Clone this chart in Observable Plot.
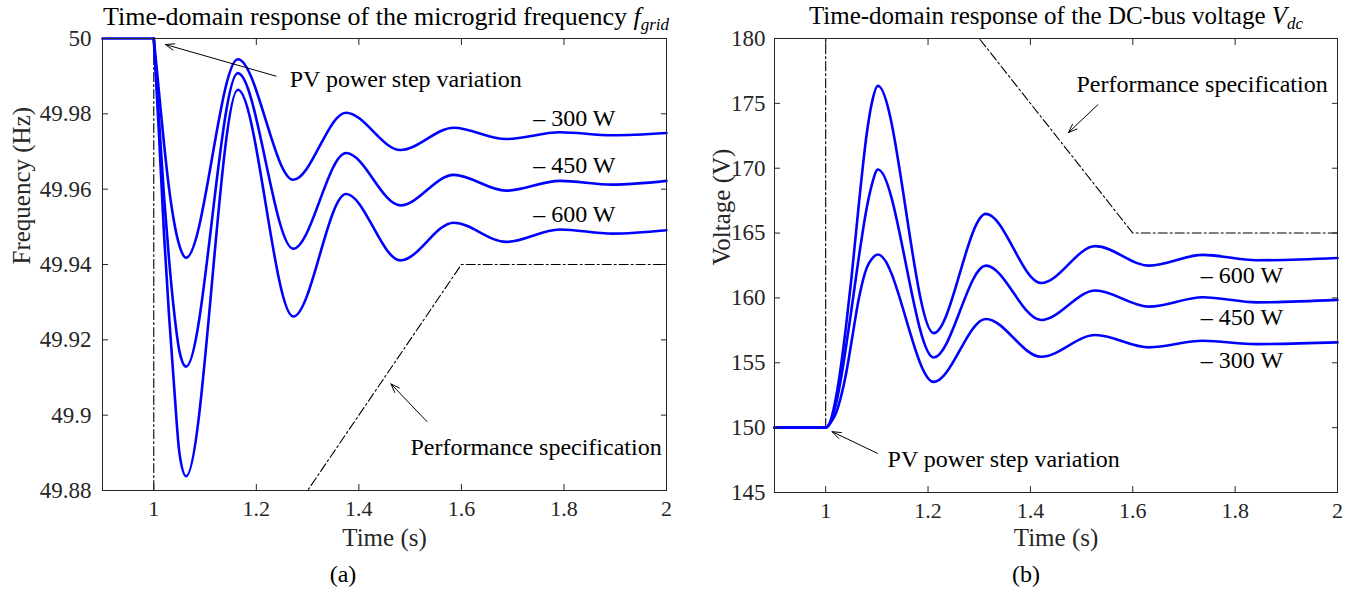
<!DOCTYPE html>
<html><head><meta charset="utf-8">
<script src="https://cdn.jsdelivr.net/npm/d3@7"></script>
<script src="https://cdn.jsdelivr.net/npm/@observablehq/plot@0.6"></script>
<style>
body{margin:0;background:#fff;width:1354px;height:591px;position:relative;overflow:hidden;font-family:"Liberation Serif",serif;color:#000}
.panel{position:absolute;top:0}
.title{position:absolute;white-space:nowrap;transform:translateX(-50%);top:2px}
.title sub{font-size:17px;vertical-align:-5px;line-height:0}
.cap{position:absolute;font-size:24px;transform:translateX(-50%);top:561px}
</style></head><body>
<div id="a" class="panel" style="left:0"></div>
<div id="b" class="panel" style="left:680px"></div>
<div class="title" style="left:386px;font-size:26px">Time-domain response of the microgrid frequency <i>f</i><sub><i>grid</i></sub></div>
<div class="title" style="left:1056px;font-size:25px">Time-domain response of the DC-bus voltage <i>V</i><sub><i>dc</i></sub></div>
<div class="cap" style="left:343px">(a)</div>
<div class="cap" style="left:1026px">(b)</div>
<script>
// ---------- shared x axis ----------
const xTicks = [1, 1.2, 1.4, 1.6, 1.8, 2];
const xTickLabels = ["1", "1.2", "1.4", "1.6", "1.8", "2"];
const xLabel = "Time (s)";
const preStepTime = [0.9, 1.0];

// ---------- (a) microgrid frequency ----------
const freqTime = [1.0, 1.01, 1.02, 1.03, 1.04, 1.05, 1.063, 1.164, 1.272, 1.375, 1.481, 1.585, 1.687, 1.792, 1.894, 2.0];
const freq300 = [50, 49.986, 49.972, 49.960, 49.951, 49.945, 49.9418, 49.9945, 49.9625, 49.9803, 49.9704, 49.9763, 49.9733, 49.9751, 49.9743, 49.9749];
const freq450 = [50, 49.979, 49.958, 49.941, 49.927, 49.917, 49.9129, 49.9908, 49.9442, 49.9696, 49.9557, 49.9638, 49.9596, 49.9622, 49.9612, 49.9622];
const freq600 = [50, 49.975, 49.948, 49.926, 49.907, 49.890, 49.8838, 49.9864, 49.9262, 49.9587, 49.9411, 49.9511, 49.9460, 49.9493, 49.9482, 49.9491];
const freqPre = [50, 50];
const freqSpecTime = [1.0, 1.0, 1.3, 1.6, 2.0];
const freqSpec = [50, 49.88, 49.88, 49.94, 49.94];
const freqTicks = [49.88, 49.9, 49.92, 49.94, 49.96, 49.98, 50];
const freqTickLabels = ["49.88", "49.9", "49.92", "49.94", "49.96", "49.98", "50"];
const freqYLabel = "Frequency (Hz)";
const freqLabels = ["– 300 W", "– 450 W", "– 600 W"];
const freqLabelX = [1.74, 1.74, 1.74];
const freqLabelY = [49.9789, 49.9664, 49.9533];
const freqNoteText = ["PV power step variation", "Performance specification"];
const freqNoteX = [1.265, 1.5006];
const freqNoteY = [49.9892, 49.8914];
const freqArrowX1 = [1.2385, 1.5328];
const freqArrowY1 = [49.9900, 49.8983];
const freqArrowX2 = [1.0228, 1.4626];
const freqArrowY2 = [49.9984, 49.9083];

// ---------- (b) DC-bus voltage ----------
const voltTime = [0.9, 1.0, 1.01, 1.02, 1.03, 1.04, 1.05, 1.065, 1.08, 1.09, 1.102, 1.211, 1.313, 1.421, 1.527, 1.632, 1.737, 1.842, 2.0];
const volt600 = [150, 150, 150.6, 152.3, 154.8, 157.9, 161.4, 167.3, 172.6, 175.0, 176.35, 157.29, 166.48, 161.15, 163.99, 162.49, 163.32, 162.90, 163.08];
const volt450 = [150, 150, 150.5, 151.8, 153.8, 156.3, 159.0, 163.2, 166.9, 168.7, 169.9, 155.41, 162.49, 158.30, 160.57, 159.33, 160.05, 159.66, 159.85];
const volt300 = [150, 150, 150.4, 151.1, 152.4, 154.2, 156.5, 160.0, 162.3, 163.0, 163.35, 153.53, 158.38, 155.46, 157.14, 156.19, 156.70, 156.44, 156.57];
const voltSpecTime = [1.0, 1.0, 1.3, 1.6, 2.0];
const voltSpec = [150, 180, 180, 165, 165];
const voltTicks = [145, 150, 155, 160, 165, 170, 175, 180];
const voltTickLabels = ["145", "150", "155", "160", "165", "170", "175", "180"];
const voltYLabel = "Voltage (V)";
const voltLabels = ["– 600 W", "– 450 W", "– 300 W"];
const voltLabelX = [1.733, 1.733, 1.733];
const voltLabelY = [161.72, 158.5, 155.2];
const voltNoteText = ["Performance specification", "PV power step variation"];
const voltNoteX = [1.490, 1.121];
const voltNoteY = [176.47, 147.55];
const voltArrowX1 = [1.532, 1.101];
const voltArrowY1 = [174.9, 148.02];
const voltArrowX2 = [1.474, 1.0126];
const voltArrowY2 = [172.74, 149.69];

const BLUE = "#0000ff";
const AXC = "#262626";
const FONT = "Liberation Serif, serif";

function rows(xs, ys, extra = {}) { return xs.map((x, i) => ({x, y: ys[i], ...extra})); }

function panel(o) {
  const xFmt = new Map(xTicks.map((t, i) => [t, xTickLabels[i]]));
  const yFmt = new Map(o.yTicks.map((t, i) => [t, o.yTickLabels[i]]));
  const series = o.series.flatMap(([xs, ys, k]) => rows(xs, ys, {k}));
  const pre = o.pre ? o.pre.flatMap(([xs, ys, k]) => rows(xs, ys, {k})) : [];
  const labels = o.labels.map((t, i) => ({t, x: o.labelX[i], y: o.labelY[i]}));
  const notes = o.noteText.map((t, i) => ({t, x: o.noteX[i], y: o.noteY[i]}));
  const arrows = o.ax1.map((x1, i) => ({x1, y1: o.ay1[i], x2: o.ax2[i], y2: o.ay2[i]}));
  return Plot.plot({
    width: o.width, height: o.height,
    marginLeft: o.ml, marginRight: o.mr, marginTop: 38, marginBottom: o.height - o.bottom,
    style: {fontFamily: FONT, fontSize: "22px", color: "#000", background: "white", overflow: "visible"},
    x: {domain: [0.9, 2]},
    y: {domain: o.yDomain},
    marks: [
      Plot.line(rows(o.specTime, o.spec), {x: "x", y: "y", stroke: "#000", strokeWidth: 1.1, strokeDasharray: "9,3,2,3"}),
      Plot.line(pre, {x: "x", y: "y", z: "k", stroke: BLUE, strokeWidth: 2.6}),
      Plot.line(series, {x: "x", y: "y", z: "k", stroke: BLUE, strokeWidth: 2.6, curve: "monotone-x"}),
      Plot.frame({stroke: AXC, strokeWidth: 1}),
      Plot.axisX({ticks: xTicks, tickFormat: d => xFmt.get(d), tickSize: 0, tickPadding: 10, fill: AXC, fontSize: 22, fontFamily: FONT, label: null}),
      Plot.axisX({ticks: xTicks, tickFormat: () => "", tickSize: -6, stroke: AXC, label: null}),
      Plot.axisX({anchor: "top", ticks: xTicks, tickFormat: () => "", tickSize: -6, stroke: AXC, label: null}),
      Plot.axisY({ticks: o.yTicks, tickFormat: d => yFmt.get(d), tickSize: 0, tickPadding: o.yPad, fill: AXC, fontSize: 23, fontFamily: FONT, label: null}),
      Plot.axisY({ticks: o.yTicks, tickFormat: () => "", tickSize: -6, stroke: AXC, label: null}),
      Plot.axisY({anchor: "right", ticks: o.yTicks, tickFormat: () => "", tickSize: -6, stroke: AXC, label: null}),
      Plot.text([xLabel], {frameAnchor: "bottom", dy: o.xLabelDy, text: d => d, fontSize: 25, fontFamily: FONT, fill: AXC}),
      Plot.text([o.yLabel], {frameAnchor: "left", dx: o.yLabelDx, rotate: -90, text: d => d, fontSize: 25, fontFamily: FONT, fill: AXC}),
      Plot.text(labels, {x: "x", y: "y", text: "t", textAnchor: "start", fontSize: 24, fontFamily: FONT, fill: "#000"}),
      Plot.text(notes, {x: "x", y: "y", text: "t", textAnchor: "start", fontSize: 24, fontFamily: FONT, fill: "#000"}),
      Plot.arrow(arrows, {x1: "x1", y1: "y1", x2: "x2", y2: "y2", stroke: "#000", strokeWidth: 1, headLength: 14, headAngle: 40})
    ]
  });
}

document.getElementById("a").append(panel({
  width: 680, height: 550, ml: 102, mr: 14, bottom: 490, yDomain: [49.88, 50],
  yTicks: freqTicks, yTickLabels: freqTickLabels, yPad: 11,
  yLabel: freqYLabel, yLabelDx: -81, xLabelDy: 55,
  series: [[freqTime, freq300, "300"], [freqTime, freq450, "450"], [freqTime, freq600, "600"]],
  pre: [[preStepTime, freqPre, "pre"]],
  specTime: freqSpecTime, spec: freqSpec,
  labels: freqLabels, labelX: freqLabelX, labelY: freqLabelY,
  noteText: freqNoteText, noteX: freqNoteX, noteY: freqNoteY,
  ax1: freqArrowX1, ay1: freqArrowY1, ax2: freqArrowX2, ay2: freqArrowY2
}));

document.getElementById("b").append(panel({
  width: 674, height: 552, ml: 94, mr: 17, bottom: 492, yDomain: [145, 180],
  yTicks: voltTicks, yTickLabels: voltTickLabels, yPad: 9,
  yLabel: voltYLabel, yLabelDx: -53, xLabelDy: 53,
  series: [[voltTime, volt600, "600"], [voltTime, volt450, "450"], [voltTime, volt300, "300"]],
  pre: null,
  specTime: voltSpecTime, spec: voltSpec,
  labels: voltLabels, labelX: voltLabelX, labelY: voltLabelY,
  noteText: voltNoteText, noteX: voltNoteX, noteY: voltNoteY,
  ax1: voltArrowX1, ay1: voltArrowY1, ax2: voltArrowX2, ay2: voltArrowY2
}));
</script>
</body></html>
